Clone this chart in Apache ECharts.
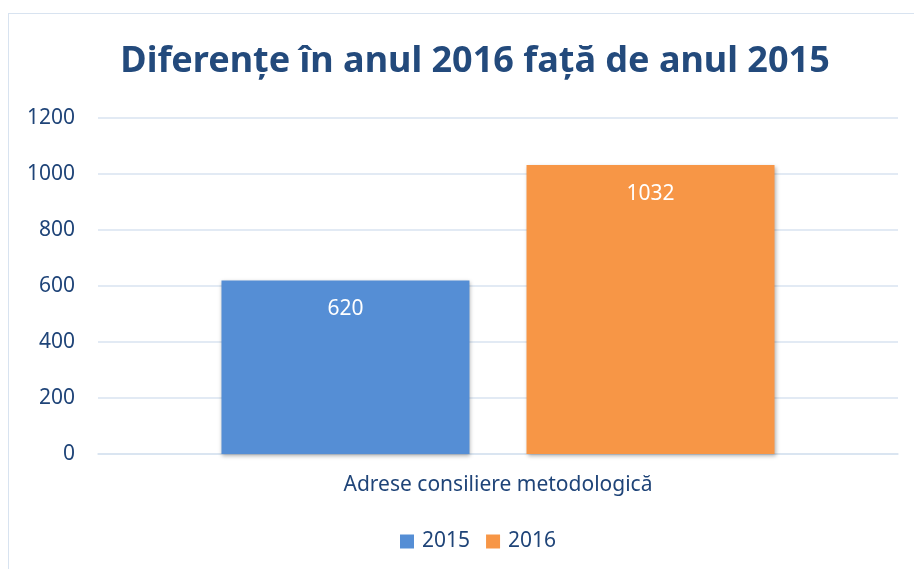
<!DOCTYPE html>
<html>
<head>
<meta charset="utf-8">
<script src="https://cdn.jsdelivr.net/npm/echarts@6/dist/echarts.min.js"></script>
<style>
  html, body { margin: 0; padding: 0; background: #fff; }
  #frame {
    position: absolute; left: 8px; top: 13px;
    width: 940px; height: 600px;
    border: 1px solid #d8e3f0;
  }
  #chart { position: absolute; left: 0; top: 0; width: 914px; height: 569px; }
</style>
</head>
<body>
<div id="frame"></div>
<div id="chart"></div>
<script>
// date grafic
var categories = ['Adrese consiliere metodologică'];
var seriesNames = ['2015', '2016'];
var values2015 = [620];
var values2016 = [1032];
var yTicks = [0, 200, 400, 600, 800, 1000, 1200];

var textColor = '#1f4478';
var font = 'Noto Sans';

var myChart = echarts.init(document.getElementById('chart'));

var option = {
  animation: false,
  title: {
    text: 'Diferențe în anul 2016 față de anul 2015',
    left: 470,
    textAlign: 'center',
    top: 39,
    textStyle: {
      fontFamily: font,
      fontWeight: 'bold',
      fontSize: 36,
      color: '#234a7c'
    }
  },
  legend: {
    data: seriesNames,
    top: 526,
    left: 395,
    itemWidth: 14,
    itemHeight: 14,
    itemGap: 16,
    icon: 'rect',
    textStyle: { fontFamily: font, fontSize: 21, color: textColor, padding: [0, 0, 0, 3] }
  },
  grid: { left: 98, right: 16, top: 118, bottom: 115 },
  xAxis: {
    type: 'category',
    data: categories,
    axisTick: { show: false },
    axisLine: { lineStyle: { color: '#d8e3f0', width: 1.5 } },
    axisLabel: { margin: 21, fontFamily: font, fontSize: 21, color: textColor }
  },
  yAxis: {
    type: 'value',
    min: yTicks[0],
    max: yTicks[yTicks.length - 1],
    interval: 200,
    axisLine: { show: false },
    axisTick: { show: false },
    axisLabel: {
      margin: 23, fontFamily: font, fontSize: 21, color: textColor,
      formatter: function (v) { return String(v); }
    },
    splitLine: { lineStyle: { color: '#d8e3f0', width: 1.5 } }
  },
  series: [
    {
      name: seriesNames[0],
      type: 'bar',
      data: values2015,
      barWidth: 248,
      barGap: '23%',
      itemStyle: {
        color: '#558ed5',
        shadowColor: 'rgba(0,0,0,0.3)',
        shadowBlur: 4,
        shadowOffsetX: 1,
        shadowOffsetY: 2
      },
      label: {
        show: true,
        position: 'insideTop',
        distance: 18,
        color: '#fff',
        fontFamily: font,
        fontSize: 21
      }
    },
    {
      name: seriesNames[1],
      type: 'bar',
      data: values2016,
      barWidth: 248,
      itemStyle: {
        color: '#f79646',
        shadowColor: 'rgba(0,0,0,0.3)',
        shadowBlur: 4,
        shadowOffsetX: 1,
        shadowOffsetY: 2
      },
      label: {
        show: true,
        position: 'insideTop',
        distance: 18,
        color: '#fff',
        fontFamily: font,
        fontSize: 21
      }
    }
  ]
};

myChart.setOption(option);
</script>
</body>
</html>
